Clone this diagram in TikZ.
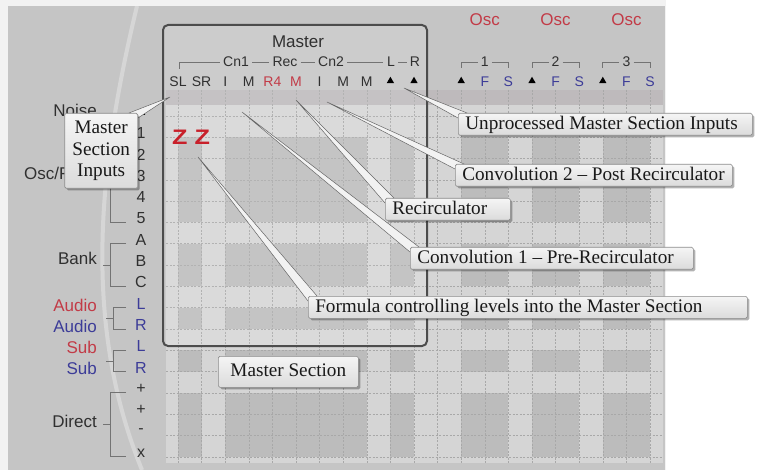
\documentclass[tikz,border=0pt]{standalone}
\usepackage{fontspec}
\setmainfont{Liberation Serif}
\newfontfamily\panelfont{Liberation Sans}
\usetikzlibrary{calc, positioning}
\usetikzlibrary{shadows, shapes.geometric}

\definecolor{panelgray}{HTML}{C5C5C5}
\definecolor{celllight}{HTML}{D5D5D5}
\definecolor{celldark}{HTML}{BCBCBC}
\definecolor{headband}{HTML}{BEBABC}
\definecolor{gridline}{HTML}{A8A8A8}
\definecolor{labeltext}{HTML}{303030}
\definecolor{labelred}{HTML}{C23B47}
\definecolor{labelblue}{HTML}{3C3C98}
\definecolor{zzred}{HTML}{C8202A}
\definecolor{boxedge}{HTML}{4C4C4C}

\newcommand{\callline}[2]{\makebox[#1][l]{#2}}

\begin{document}
\begin{tikzpicture}[x=1pt, y=-1pt,
  lbl/.style={font=\panelfont\fontsize{17}{17}\selectfont, text=labeltext, inner sep=0pt},
  rowlbl/.style={font=\panelfont\fontsize{16}{16}\selectfont, text=labeltext, inner sep=0pt},
  collbl/.style={font=\panelfont\fontsize{14}{14}\selectfont, text=labeltext, inner sep=0pt},
  tri/.style={regular polygon, regular polygon sides=3, fill=black, inner sep=0pt, minimum size=8.5pt},
  gridrule/.style={draw=gridline, line width=0.6pt, dash pattern=on 2pt off 1.5pt},
  bracket/.style={draw=black!55, line width=0.9pt},
  callout/.style={draw=black!45, line width=0.6pt, rounded corners=1.5pt,
    top color=black!4, bottom color=black!14, text=black!90,
    font=\fontsize{19.2}{21.7}\selectfont, inner xsep=7pt, inner ysep=2pt,
    drop shadow={shadow xshift=2pt, shadow yshift=-2pt, opacity=0.3, fill=black}},
  oneline/.style={text height=14pt, text depth=4pt},
  tail/.style={fill=black!5, draw=black!60, line width=0.5pt, line join=round}]
\def\xo{178}
\def\dx{23.6}
\def\yo{116}
\def\dy{21.3}

\useasboundingbox (0,0) rectangle (760,470);

% panel and matrix
\fill[white] (0,0) rectangle (760,470);
\fill[black!5] (0,0) rectangle (666,470);
\fill[panelgray] (8,6) rectangle (665,470);
\draw[white, opacity=0.3, line width=4pt] (137,6) .. controls (95,180) and (85,330) .. (142,470);
\fill[headband] (166,90) rectangle (663,105);
\fill[celllight] (166,105) rectangle (663,463);
\foreach \ca/\cb in {0/1, 2/8, 9/10, 12/14, 15/17, 18/20}
  \foreach \ra/\rb in {1/5, 6/8, 9/10, 11/12, 13/16}
    \fill[celldark] ({\xo+\dx*\ca},{\yo+\dy*\ra}) rectangle ({\xo+\dx*\cb},{\yo+\dy*\rb});
\foreach \j in {0,...,20}
  \draw[gridrule] ({\xo+\dx*\j},90) -- ({\xo+\dx*\j},463);
\foreach \i in {0,...,16}
  \draw[gridrule] (166,{\yo+\dy*\i}) -- (663,{\yo+\dy*\i});

\draw[draw=boxedge, line width=2pt, rounded corners=5pt, fill=white, fill opacity=0.12]
  (163,25) rectangle (427,346);

% column heads
\node[lbl] (master) at (298,42) {Master};
\node[collbl] (cn1) at (236,62) {Cn1};
\node[collbl] (rec) at (285,62) {Rec};
\node[collbl] (cn2) at (331,62) {Cn2};
\node[collbl] (brL) at (391,62) {L};
\node[collbl] (brR) at (415,62) {R};
\draw[bracket] (179,69) -- (179,62) -- ([xshift=-3pt]cn1.west);
\draw[bracket] ([xshift=3pt]cn1.east) -- ([xshift=-3pt]rec.west);
\draw[bracket] ([xshift=3pt]rec.east) -- ([xshift=-3pt]cn2.west);
\draw[bracket] ([xshift=3pt]cn2.east) -- ([xshift=-4pt]brL.west);
\draw[bracket] ([xshift=3pt]brL.east) -- ([xshift=-3pt]brR.west);

\foreach \k/\j in {1/13, 2/16, 3/19} {
  \node[lbl, text=labelred] (osc\k) at ({\xo+\dx*\j},20) {Osc};
  \node[collbl] (num\k) at ({\xo+\dx*\j},62) {\k};
  \draw[bracket] ({\xo+\dx*(\j-1)},68) -- ({\xo+\dx*(\j-1)},62) -- ([xshift=-3pt]num\k.west);
  \draw[bracket] ([xshift=3pt]num\k.east) -- ({\xo+\dx*(\j+1)},62) -- ({\xo+\dx*(\j+1)},68);
}

\foreach \j/\txt/\col in {0/SL/labeltext, 1/SR/labeltext, 2/I/labeltext, 3/M/labeltext,
    4/R4/labelred, 5/M/labelred, 6/I/labeltext, 7/M/labeltext, 8/M/labeltext,
    13/F/labelblue, 14/S/labelblue, 16/F/labelblue, 17/S/labelblue, 19/F/labelblue, 20/S/labelblue}
  \node[collbl, text=\col] (col\j) at ({\xo+\dx*\j},82) {\txt};
\foreach \j in {9,10,12,15,18}
  \node[tri] (col\j) at ({\xo+\dx*\j},81) {};

% row heads
\node[tri, minimum size=7.5pt] (row0) at (142,113) {};
\foreach \i/\txt/\col in {1/1/labeltext, 2/2/labeltext, 3/3/labeltext, 4/4/labeltext, 5/5/labeltext,
    6/A/labeltext, 7/B/labeltext, 8/C/labeltext, 9/L/labelblue, 10/R/labelblue,
    11/L/labelblue, 12/R/labelblue, 13/+/labeltext, 14/+/labeltext, 15/-/labeltext, 16/x/labeltext}
  \node[rowlbl, text=\col] (row\i) at (141,{\yo-4+\dy*\i}) {\txt};

\foreach \ra/\rb/\bx in {1/5/110, 6/8/110, 9/10/113, 11/12/113, 13/16/110} {
  \draw[bracket] (126,{\yo+\dy*\ra}) -- (\bx,{\yo+\dy*\ra}) -- (\bx,{\yo+\dy*\rb}) -- (126,{\yo+\dy*\rb});
  \draw[bracket] (\bx,{\yo+\dy*(\ra+\rb)/2}) -- ({\bx-7},{\yo+\dy*(\ra+\rb)/2});
}

\node[lbl, anchor=east] (noise) at (97,110) {Noise};
\node[lbl, anchor=east] (oscfilter) at (97,173) {Osc/Filter};
\node[lbl, anchor=east] (bank) at (97,258) {Bank};
\node[lbl, anchor=east, text=labelred] (audioL) at (97,305) {Audio};
\node[lbl, anchor=east, text=labelblue] (audioR) at (97,326) {Audio};
\node[lbl, anchor=east, text=labelred] (subL) at (97,347) {Sub};
\node[lbl, anchor=east, text=labelblue] (subR) at (97,368) {Sub};
\node[lbl, anchor=east] (direct) at (97,421) {Direct};

\node[font=\panelfont\bfseries\fontsize{21}{21}\selectfont, text=zzred, inner sep=0pt] (zz) at (191,137)
  {\scalebox{1.2}[1]{Z}\hspace{7pt}\scalebox{1.2}[1]{Z}};

% callouts
\coordinate (inputs-ne) at (138,113);
\coordinate (unproc-nw) at (458,113);
\coordinate (conv2-nw) at (455,164);
\coordinate (recirc-nw) at (385,198);
\coordinate (conv1-nw) at (410,247);
\coordinate (formula-nw) at (308,296);
\coordinate (section-nw) at (218,356);

\coordinate (inputs-tip) at (170,97);
\coordinate (unproc-tip) at (404,88);
\coordinate (conv2-tip) at (327,102);
\coordinate (recirc-tip) at (296,100);
\coordinate (conv1-tip) at (242,112);
\coordinate (formula-tip) at (198,157);

\filldraw[tail] (inputs-tip) -- ($(inputs-ne)+(-9,0)$) -- ($(inputs-ne)+(0,5)$) -- cycle;
\foreach \n in {unproc, conv2, recirc, conv1, formula}
  \filldraw[tail] (\n-tip) -- ($(\n-nw)+(9,0)$) -- ($(\n-nw)+(0,5)$) -- cycle;

\node[callout, align=center, anchor=north east, inner xsep=2pt, minimum width=73pt, minimum height=75pt]
  (inputs) at (inputs-ne) {Master\\Section\\Inputs};
\node[callout, oneline, anchor=north west] (unproc) at (unproc-nw)
  {\callline{280pt}{Unprocessed Master Section Inputs}};
\node[callout, oneline, anchor=north west] (conv2) at (conv2-nw)
  {\callline{263pt}{Convolution 2 – Post Recirculator}};
\node[callout, oneline, anchor=north west] (recirc) at (recirc-nw)
  {\callline{111pt}{Recirculator}};
\node[callout, oneline, anchor=north west] (conv1) at (conv1-nw)
  {\callline{269pt}{Convolution 1 – Pre-Recirculator}};
\node[callout, oneline, anchor=north west] (formula) at (formula-nw)
  {\callline{425pt}{Formula controlling levels into the Master Section}};
\node[callout, oneline, anchor=north west, minimum width=140pt, minimum height=31pt] (section) at (section-nw)
  {Master Section};
\end{tikzpicture}
\end{document}
